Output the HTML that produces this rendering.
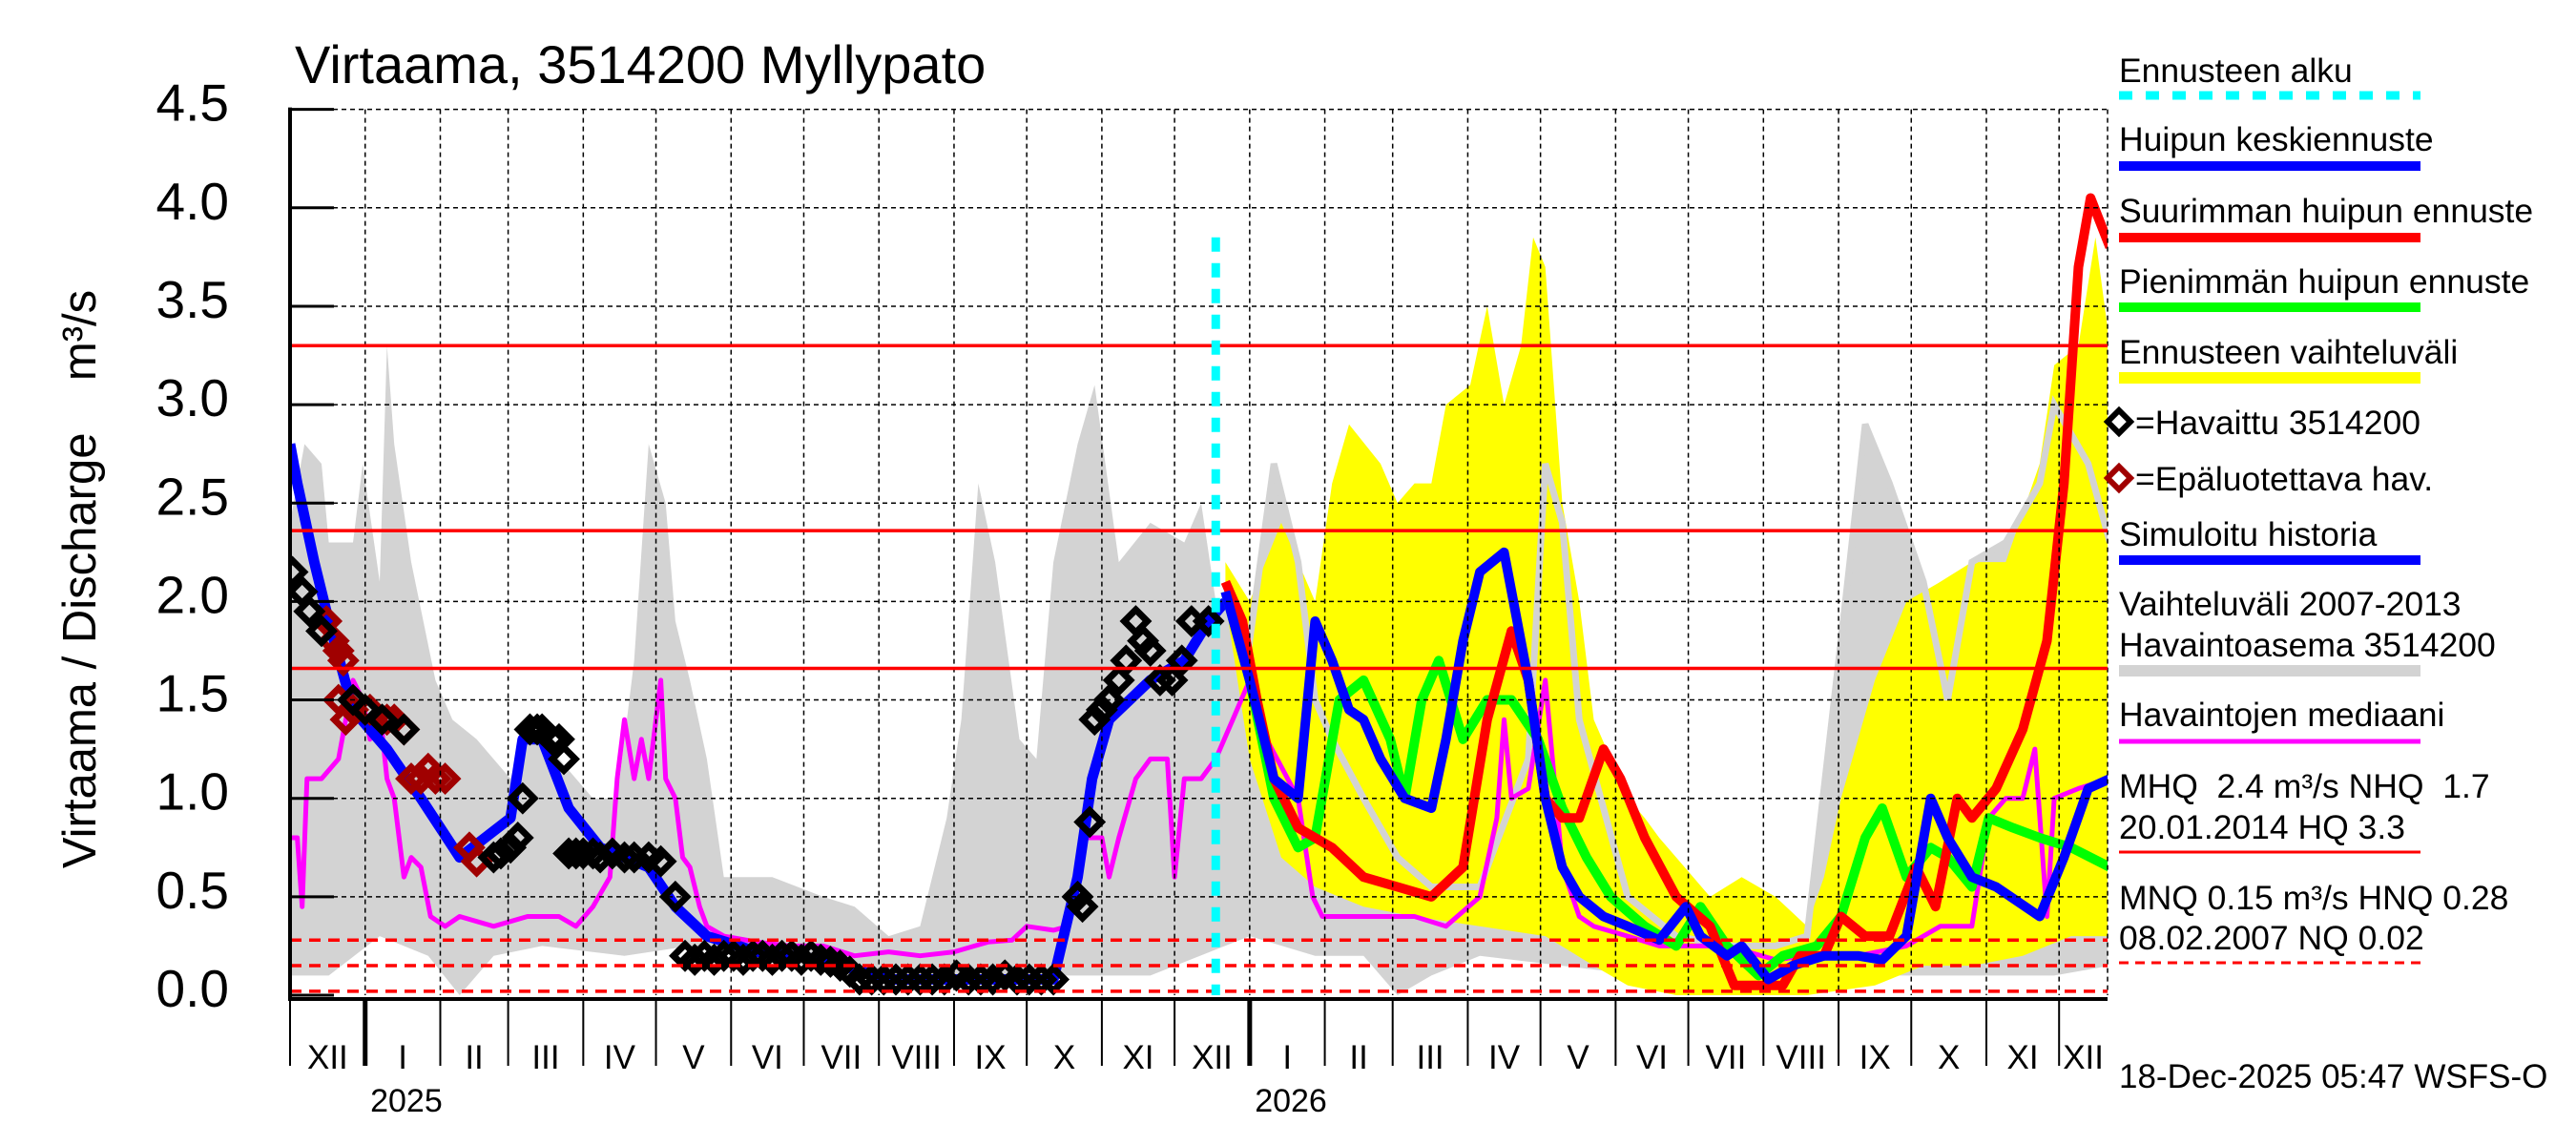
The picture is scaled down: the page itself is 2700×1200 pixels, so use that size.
<!DOCTYPE html>
<html><head><meta charset="utf-8"><style>
html,body{margin:0;padding:0;background:#fff;}
svg{display:block;font-family:"Liberation Sans",sans-serif;}
</style></head><body>
<svg id="chart" xmlns="http://www.w3.org/2000/svg" width="2700" height="1200" viewBox="0 0 2700 1200">
<rect x="0" y="0" width="2700" height="1200" fill="#fff"/>
<g id="plot"></g>
<text x="309" y="87" font-size="56" fill="#000">Virtaama, 3514200 Myllypato</text>
<text transform="translate(100,607) rotate(-90)" text-anchor="middle" font-size="49" fill="#000" xml:space="preserve">Virtaama / Discharge    m³/s</text>
<g id="legend" font-size="35.5" fill="#000">
<text x="2221" y="86">Ennusteen alku</text>
<line x1="2221" y1="100" x2="2537" y2="100" stroke="#00ffff" stroke-width="9" stroke-dasharray="14,14"/>
<text x="2221" y="158">Huipun keskiennuste</text>
<line x1="2221" y1="174" x2="2537" y2="174" stroke="#0000ff" stroke-width="10"/>
<text x="2221" y="233">Suurimman huipun ennuste</text>
<line x1="2221" y1="249" x2="2537" y2="249" stroke="#ff0000" stroke-width="10"/>
<text x="2221" y="307">Pienimmän huipun ennuste</text>
<line x1="2221" y1="322" x2="2537" y2="322" stroke="#00ff00" stroke-width="10"/>
<text x="2221" y="381">Ennusteen vaihteluväli</text>
<line x1="2221" y1="396" x2="2537" y2="396" stroke="#ffff00" stroke-width="12"/>
<polygon points="2221,430 2233,442 2221,454 2209,442" fill="none" stroke="#000" stroke-width="6"/>
<text x="2238" y="455">=Havaittu 3514200</text>
<polygon points="2221,489 2233,501 2221,513 2209,501" fill="none" stroke="#a00000" stroke-width="6"/>
<text x="2238" y="514">=Epäluotettava hav.</text>
<text x="2221" y="572">Simuloitu historia</text>
<line x1="2221" y1="587" x2="2537" y2="587" stroke="#0000ff" stroke-width="10"/>
<text x="2221" y="645">Vaihteluväli 2007-2013</text>
<text x="2221" y="688">Havaintoasema 3514200</text>
<line x1="2221" y1="703" x2="2537" y2="703" stroke="#d3d3d3" stroke-width="12"/>
<text x="2221" y="761">Havaintojen mediaani</text>
<line x1="2221" y1="777" x2="2537" y2="777" stroke="#ff00ff" stroke-width="5"/>
<text x="2221" y="836" xml:space="preserve">MHQ  2.4 m³/s NHQ  1.7</text>
<text x="2221" y="879">20.01.2014 HQ  3.3</text>
<line x1="2221" y1="893" x2="2537" y2="893" stroke="#ff0000" stroke-width="3"/>
<text x="2221" y="953">MNQ 0.15 m³/s HNQ 0.28</text>
<text x="2221" y="995">08.02.2007 NQ 0.02</text>
<line x1="2221" y1="1009" x2="2537" y2="1009" stroke="#ff0000" stroke-width="3" stroke-dasharray="10,7"/>
</g>
<text x="2221" y="1140" font-size="35" fill="#000">18-Dec-2025 05:47 WSFS-O</text>
</svg>
<script>
// ---- data (day = days since 2024-12-01) ----
const yTicks = [0.0, 0.5, 1.0, 1.5, 2.0, 2.5, 3.0, 3.5, 4.0, 4.5];
const yTickLabels = ["0.0","0.5","1.0","1.5","2.0","2.5","3.0","3.5","4.0","4.5"];
const monthStarts = [0,31,62,90,121,151,182,212,243,274,304,335,365,396,427,455,486,516,547,577,608,639,669,700,730];
const monthLabels = ["XII","I","II","III","IV","V","VI","VII","VIII","IX","X","XI","XII","I","II","III","IV","V","VI","VII","VIII","IX","X","XI","XII"];
const yearLabels = ["2025","2026"];
const yearStarts = [31,396];
const forecastStartDay = 382;
const refSolid = [3.3, 2.36, 1.66];
const refDashed = [0.28, 0.15, 0.02];

const grayUpDays = [0,6,13,16,26,30,37,40,43,50,60,67,77,91,98,111,125,135,142,148,155,159,165,172,179,199,220,233,247,260,271,277,284,291,301,308,315,325,332,342,355,369,376,382,396,406,416,423,430,443,457,471,491,511,518,525,532,552,572,593,613,626,640,650,660,674,684,694,708,722,728,742,751];
const grayUpVals = [2.4,2.8,2.7,2.3,2.3,2.7,2.1,3.3,2.8,2.2,1.6,1.4,1.3,1.1,1.4,1.2,1.0,1.0,1.7,2.8,2.5,1.9,1.6,1.2,0.6,0.6,0.5,0.45,0.3,0.35,0.9,1.4,2.6,2.2,1.3,1.2,2.2,2.8,3.1,2.2,2.4,2.3,2.5,2.0,1.8,2.7,2.2,1.5,1.3,1.0,0.7,0.55,0.55,1.2,2.7,2.4,1.4,0.5,0.3,0.25,0.25,0.3,1.8,2.9,2.6,2.1,1.5,2.2,2.3,2.6,3.0,2.7,2.3];
const grayLoDays = [0,16,37,57,70,84,104,138,165,193,233,260,288,321,355,396,423,443,457,471,491,525,559,593,626,660,694,728,751];
const grayLoVals = [0.1,0.1,0.3,0.2,0.0,0.2,0.25,0.2,0.25,0.2,0.1,0.1,0.1,0.1,0.1,0.3,0.2,0.2,0.0,0.1,0.2,0.15,0.1,0.1,0.1,0.1,0.1,0.1,0.15];

const yelUpDays = [386,396,409,423,430,437,450,457,464,471,477,487,494,501,508,513,518,525,532,538,545,552,559,565,572,586,599,613,626,633,640,654,667,681,694,708,722,728,738,745,751];
const yelUpVals = [2.2,2.0,2.4,2.0,2.6,2.9,2.7,2.5,2.6,2.6,3.0,3.1,3.5,3.0,3.3,3.85,3.7,2.5,2.0,1.4,1.2,1.0,0.9,0.8,0.7,0.5,0.6,0.5,0.35,0.6,1.0,1.6,2.0,2.1,2.2,2.2,2.7,3.2,3.3,3.85,3.3];
const yelLoDays = [386,396,409,423,443,464,491,518,538,552,572,599,626,654,674,694,715,735,751];
const yelLoVals = [2.0,1.2,0.7,0.55,0.45,0.4,0.35,0.3,0.15,0.05,0.0,0.0,0.0,0.05,0.15,0.15,0.2,0.3,0.3];

const medDays = [0,3,5,7,13,20,23,26,30,33,37,40,43,47,50,54,58,64,70,84,98,111,118,125,132,135,138,142,145,148,153,155,159,162,165,169,172,179,193,206,220,233,247,260,274,288,298,304,315,321,328,335,338,342,349,355,362,365,369,376,382,389,396,403,416,422,426,437,450,464,477,491,498,501,504,511,518,525,532,538,552,565,593,613,626,647,667,681,694,701,708,715,720,725,728,738,751];
const medVals = [0.8,0.8,0.45,1.1,1.1,1.2,1.4,1.6,1.5,1.3,1.45,1.1,1.0,0.6,0.7,0.65,0.4,0.35,0.4,0.35,0.4,0.4,0.35,0.45,0.6,1.1,1.4,1.1,1.3,1.1,1.6,1.1,1.0,0.7,0.65,0.45,0.35,0.3,0.27,0.25,0.25,0.2,0.22,0.2,0.22,0.27,0.28,0.35,0.33,0.35,0.8,0.8,0.6,0.8,1.1,1.2,1.2,0.6,1.1,1.1,1.2,1.4,1.6,1.3,1.0,0.5,0.4,0.4,0.4,0.4,0.35,0.5,0.9,1.4,1.0,1.05,1.6,0.65,0.4,0.35,0.3,0.25,0.25,0.18,0.2,0.2,0.25,0.35,0.35,0.9,1.0,1.0,1.25,0.4,1.0,1.05,1.1];

const simDays = [0,3,10,16,26,40,54,70,91,96,104,115,128,148,159,172,193,220,247,315,325,331,338,355,369,379,386];
const simVals = [2.8,2.6,2.2,1.9,1.45,1.25,1.0,0.7,0.9,1.3,1.3,0.95,0.75,0.65,0.45,0.3,0.22,0.18,0.08,0.08,0.6,1.1,1.4,1.6,1.7,1.9,2.0];

const greenDays = [386,396,406,416,423,433,443,454,460,467,474,484,494,504,515,525,535,545,559,572,582,593,606,616,630,640,650,657,667,677,684,694,701,711,722,735,751];
const greenVals = [2.05,1.6,1.0,0.75,0.8,1.5,1.6,1.3,1.0,1.5,1.7,1.3,1.5,1.5,1.3,0.95,0.7,0.5,0.35,0.25,0.45,0.25,0.1,0.2,0.25,0.4,0.8,0.95,0.6,0.75,0.7,0.55,0.9,0.85,0.8,0.75,0.65];
const redDays = [386,393,399,406,416,430,443,457,471,484,494,504,511,518,525,532,542,549,559,572,586,596,606,616,623,633,640,650,660,671,679,688,694,704,715,725,732,738,743,751];
const redVals = [2.1,1.9,1.5,1.1,0.85,0.75,0.6,0.55,0.5,0.65,1.4,1.85,1.6,1.0,0.9,0.9,1.25,1.1,0.8,0.5,0.35,0.05,0.05,0.05,0.2,0.2,0.4,0.3,0.3,0.65,0.45,1.0,0.9,1.05,1.35,1.8,2.6,3.7,4.05,3.8];
const blueDays = [386,396,406,416,423,430,437,443,450,460,471,477,484,491,501,511,518,525,532,542,552,565,576,582,593,599,610,620,633,647,657,667,677,684,694,704,722,732,742,751];
const blueVals = [2.05,1.6,1.1,1.0,1.9,1.7,1.45,1.4,1.2,1.0,0.95,1.3,1.8,2.15,2.25,1.6,1.0,0.65,0.5,0.4,0.35,0.28,0.45,0.3,0.2,0.25,0.08,0.15,0.2,0.2,0.18,0.3,1.0,0.8,0.6,0.55,0.4,0.7,1.05,1.1];

const obsDays = [1,5,8,13,26,31,38,47,84,87,91,94,96,99,102,104,108,111,113,115,118,121,125,128,133,138,142,148,153,159,163,167,171,175,179,183,187,191,195,199,203,207,211,215,219,223,227,231,235,240,245,250,255,260,265,270,275,280,285,290,295,300,305,310,315,325,327,330,332,335,338,342,345,349,352,355,359,364,368,372,379];
const obsVals = [2.15,2.05,1.95,1.85,1.5,1.45,1.4,1.35,0.7,0.72,0.75,0.8,1.0,1.35,1.35,1.35,1.3,1.3,1.2,0.72,0.72,0.72,0.72,0.7,0.72,0.7,0.7,0.7,0.68,0.5,0.2,0.18,0.2,0.18,0.2,0.2,0.18,0.2,0.2,0.18,0.2,0.2,0.18,0.2,0.18,0.17,0.15,0.12,0.08,0.08,0.08,0.08,0.08,0.08,0.08,0.08,0.1,0.08,0.08,0.08,0.1,0.08,0.08,0.08,0.08,0.5,0.45,0.88,1.4,1.45,1.5,1.6,1.7,1.9,1.8,1.75,1.6,1.6,1.7,1.9,1.9];
const badDays = [15,18,20,22,20,23,26,33,40,43,47,50,54,57,60,64,74,77];
const badVals = [1.9,1.8,1.75,1.7,1.5,1.4,1.45,1.45,1.4,1.4,1.35,1.1,1.1,1.15,1.1,1.1,0.75,0.68];

// ---- axes ----
const X0 = 304, X1 = 2209, PXD = 2.54, Y0 = 1043, PXV = 206.3;
function xs(d){ return X0 + d*PXD; }
function ys(v){ return Y0 - v*PXV; }
const NS = "http://www.w3.org/2000/svg";
const plot = document.getElementById('plot');
function mk(tag, attrs, parent){
  const e = document.createElementNS(NS, tag);
  for (const k in attrs) e.setAttribute(k, attrs[k]);
  (parent||plot).appendChild(e);
  return e;
}
function linePath(days, vals){
  return days.map((d,i)=>(i?'L':'M')+xs(d).toFixed(1)+','+ys(vals[i]).toFixed(1)).join(' ');
}
function bandPath(ud, uv, ld, lv){
  let p = ud.map((d,i)=>(i?'L':'M')+xs(d).toFixed(1)+','+ys(uv[i]).toFixed(1)).join(' ');
  for (let i=ld.length-1;i>=0;i--) p += ' L'+xs(ld[i]).toFixed(1)+','+ys(lv[i]).toFixed(1);
  return p+' Z';
}

const defs = mk('defs', {});
const cp = mk('clipPath', {id:'clip'}, defs);
mk('rect', {x:X0, y:100, width:X1-X0, height:Y0-100+4}, cp);

const g = mk('g', {'clip-path':'url(#clip)'});



let e;
e = mk('path', {d:bandPath(grayUpDays, grayUpVals, grayLoDays, grayLoVals), fill:'#d3d3d3', stroke:'none'}, g);



e = mk('path', {d:bandPath(yelUpDays, yelUpVals, yelLoDays, yelLoVals), fill:'#ffff00', stroke:'none'}, g);



const gfD = [], gfV = [];
grayUpDays.forEach((d,i)=>{ if (d>=382){ gfD.push(d); gfV.push(grayUpVals[i]); } });
e = mk('path', {d:linePath(gfD, gfV), fill:'none', stroke:'#d3d3d3', 'stroke-width':7}, g);



yTicks.forEach((v,i)=>{
  if (v===0) return;
  const l = mk('line', {x1:X0, x2:X1, y1:ys(v), y2:ys(v), stroke:'#000', 'stroke-width':1.5, 'stroke-dasharray':'5,4'});
  
  
});
monthStarts.forEach((d,i)=>{
  if (i===0) return;
  const l = mk('line', {x1:xs(d), x2:xs(d), y1:ys(4.5), y2:Y0, stroke:'#000', 'stroke-width':1.5, 'stroke-dasharray':'5,4'});
  
  
});
e = mk('line', {x1:X1, x2:X1, y1:ys(4.5), y2:Y0, stroke:'#000', 'stroke-width':1.5, 'stroke-dasharray':'5,4'});



refSolid.forEach(v=>{
  const l = mk('line', {x1:X0, x2:X1, y1:ys(v), y2:ys(v), stroke:'#ff0000', 'stroke-width':3.5});
  
  
});
refDashed.forEach(v=>{
  const l = mk('line', {x1:X0, x2:X1, y1:ys(v), y2:ys(v), stroke:'#ff0000', 'stroke-width':3.5, 'stroke-dasharray':'12,8'});
  
  
});

e = mk('path', {d:linePath(medDays, medVals), fill:'none', stroke:'#ff00ff', 'stroke-width':5, 'stroke-linejoin':'round'}, g);



e = mk('path', {d:linePath(simDays, simVals), fill:'none', stroke:'#0000ff', 'stroke-width':11, 'stroke-linejoin':'round'}, g);



e = mk('path', {d:linePath(greenDays, greenVals), fill:'none', stroke:'#00ff00', 'stroke-width':10, 'stroke-linejoin':'round'}, g);


e = mk('path', {d:linePath(redDays, redVals), fill:'none', stroke:'#ff0000', 'stroke-width':10, 'stroke-linejoin':'round'}, g);


e = mk('path', {d:linePath(blueDays, blueVals), fill:'none', stroke:'#0000ff', 'stroke-width':10, 'stroke-linejoin':'round'}, g);



function diamond(d, v, color){
  const cx = xs(d), cy = ys(v), r = 12;
  return mk('polygon', {points:`${cx},${cy-r} ${cx+r},${cy} ${cx},${cy+r} ${cx-r},${cy}`, fill:'none', stroke:color, 'stroke-width':7}, g);
}
badDays.forEach((d,i)=>{
  const p = diamond(d, badVals[i], '#a00000');
  
  
});
obsDays.forEach((d,i)=>{
  const p = diamond(d, obsVals[i], '#000');
  
  
});

e = mk('line', {x1:xs(forecastStartDay), x2:xs(forecastStartDay), y1:ys(3.85), y2:Y0, stroke:'#00ffff', 'stroke-width':9, 'stroke-dasharray':'15,12'});



e = mk('line', {x1:X0, x2:X0, y1:ys(4.5)-2, y2:Y0+5, stroke:'#000', 'stroke-width':4});


e = mk('line', {x1:X0-2, x2:X1, y1:Y0+4, y2:Y0+4, stroke:'#000', 'stroke-width':4});



yTicks.forEach((v,i)=>{
  const t = mk('line', {x1:X0, x2:X0+46, y1:ys(v), y2:ys(v), stroke:'#000', 'stroke-width':3});
  
  
  const lb = mk('text', {x:240, y:ys(v)+12, 'text-anchor':'end', 'font-size':55, fill:'#000'});
  lb.textContent = yTickLabels[i];
  
  
});

monthStarts.forEach((d,i)=>{
  const isYear = yearStarts.indexOf(d) >= 0;
  const t = mk('line', {x1:xs(d), x2:xs(d), y1:Y0+4, y2:1117, stroke:'#000', 'stroke-width':isYear?5:2});
  
  
  const next = i+1 < monthStarts.length ? xs(monthStarts[i+1]) : X1;
  const lb = mk('text', {x:(xs(d)+Math.min(next,X1))/2, y:1120, 'text-anchor':'middle', 'font-size':35, fill:'#000'});
  lb.textContent = monthLabels[i];
  
  
});
yearStarts.forEach((d,i)=>{
  const lb = mk('text', {x:xs(d+17), y:1165, 'text-anchor':'middle', 'font-size':34, fill:'#000'});
  lb.textContent = yearLabels[i];
  
  
});
</script>
</body></html>
